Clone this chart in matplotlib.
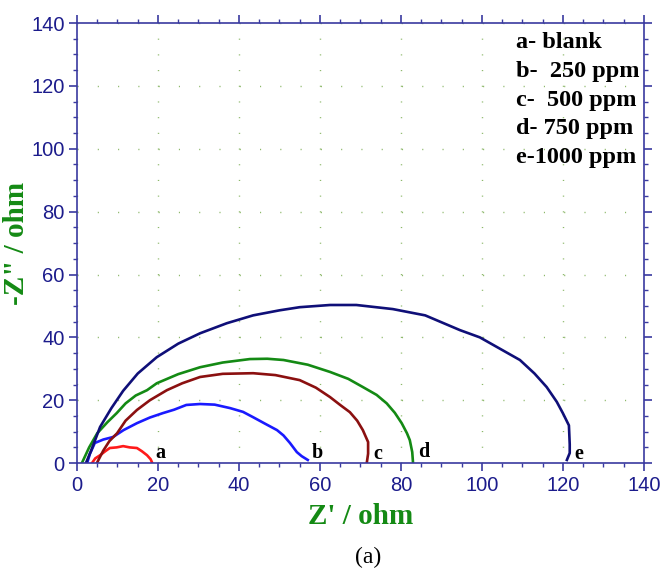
import numpy as np
import matplotlib
matplotlib.use("Agg")
import matplotlib.pyplot as plt
from matplotlib.ticker import MultipleLocator

# === Données ===
a_x = [3.7, 4.5, 5.7, 7.0, 8.1, 9.8, 11.4, 13.0, 14.8, 16.0, 17.3, 18.2, 18.5]
a_y = [0.0, 1.5, 2.5, 3.8, 4.8, 5.0, 5.4, 5.0, 4.8, 3.8, 2.5, 1.2, 0.3]

b_x = [2.5, 3.2, 4.4, 6.5, 8.9, 11.5, 14.8, 18.0, 21.2, 24.0, 27.0, 30.4, 34.0,
       37.8, 41.0, 43.5, 46.5, 49.4, 51.0, 52.6, 54.3, 55.5, 57.0]
b_y = [0.0, 3.0, 6.4, 7.5, 8.3, 10.5, 12.7, 14.5, 15.9, 17.0, 18.5, 18.8, 18.6,
       17.5, 16.3, 14.6, 12.5, 10.5, 8.8, 6.4, 3.5, 2.2, 1.0]

c_x = [4.9, 6.5, 8.0, 9.9, 12.0, 14.8, 18.0, 22.2, 26.0, 30.4, 36.0, 43.5, 49.0,
       55.0, 59.0, 62.5, 65.0, 67.4, 69.2, 70.6, 71.9, 71.9, 71.6]
c_y = [0.0, 4.0, 7.0, 9.5, 13.5, 16.9, 20.0, 23.2, 25.4, 27.4, 28.4, 28.6, 28.0,
       26.4, 24.0, 21.0, 18.5, 16.2, 13.5, 10.5, 6.7, 3.0, 0.3]

d_x = [1.2, 3.0, 5.0, 7.5, 9.8, 12.0, 14.5, 17.3, 19.7, 25.0, 30.4, 36.0, 42.7,
       47.0, 51.0, 57.0, 62.5, 67.0, 70.6, 74.0, 76.5, 78.5, 80.2, 81.5, 82.2,
       82.8, 83.0]
d_y = [0.0, 5.0, 9.5, 13.0, 15.9, 19.0, 21.5, 23.2, 25.4, 28.3, 30.5, 32.0, 33.1,
       33.2, 32.8, 31.3, 29.0, 26.8, 24.2, 21.7, 19.0, 16.0, 12.7, 9.5, 7.3,
       3.5, 0.0]

e_x = [2.2, 3.5, 5.7, 8.5, 11.4, 15.0, 19.7, 25.0, 30.4, 37.0, 43.5, 50.0, 55.0,
       62.5, 69.0, 78.0, 86.0, 94.6, 99.5, 105.0, 109.4, 113.0, 116.0, 118.5,
       120.0, 121.5, 121.7, 121.7, 121.0]
e_y = [0.0, 4.0, 11.5, 17.5, 23.0, 28.5, 33.7, 38.0, 41.3, 44.5, 47.0, 48.6, 49.6,
       50.3, 50.3, 49.0, 47.0, 42.3, 40.0, 36.0, 32.8, 28.5, 24.2, 19.5,
       15.9, 12.0, 6.0, 3.2, 1.0]

courbes = [
    (a_x, a_y, "#ff1a1a", "a", (19.3, 3.2)),
    (b_x, b_y, "#1a1aff", "b", (58.0, 3.2)),
    (c_x, c_y, "#8b1010", "c", (73.3, 2.8)),
    (d_x, d_y, "#148a14", "d", (84.3, 3.4)),
    (e_x, e_y, "#0f0f78", "e", (122.8, 3.0)),
]
legende = ["a- blank", "b-  250 ppm", "c-  500 ppm", "d- 750 ppm", "e-1000 ppm"]

# === Figure ===
fig = plt.figure(figsize=(6.61, 5.76), dpi=100)
ax = fig.add_axes([0.1165, 0.196, 0.8575, 0.764])

axe_col = "#3a3aa0"
tick_col = "#1c1c8c"

for x, y, col, lab, pos in courbes:
    ax.plot(x, y, color=col, lw=1.9, solid_joinstyle="round")
    ax.text(pos[0], pos[1], lab, fontsize=14.5, fontweight="bold",
            family="Liberation Serif", color="black", ha="left", va="center")

for i, t in enumerate(legende):
    ax.text(0.774, 0.955 - i * 0.065, t, transform=ax.transAxes, fontsize=17.5,
            fontweight="bold", family="Liberation Serif", color="black",
            ha="left", va="center")

ax.set_xlim(0, 140)
ax.set_ylim(0, 140)
ax.xaxis.set_major_locator(MultipleLocator(20))
ax.yaxis.set_major_locator(MultipleLocator(20))
ax.xaxis.set_minor_locator(MultipleLocator(5))
ax.yaxis.set_minor_locator(MultipleLocator(5))

for s in ax.spines.values():
    s.set_color(axe_col)
    s.set_linewidth(1.2)

ax.tick_params(which="both", direction="out", colors=axe_col,
               top=True, right=True, labelcolor=tick_col, labelsize=14.5)
ax.tick_params(which="major", length=6, width=1.2, pad=3)
ax.tick_params(which="minor", length=3, width=1.0)
for lab in ax.get_xticklabels() + ax.get_yticklabels():
    lab.set_family("Liberation Sans")

# grille pointillée (points à chaque graduation mineure)
ax.xaxis.grid(True, which="major", color="#8db86a", lw=1.0,
              linestyle=(0, (0.8, 10.5)))
ax.yaxis.grid(True, which="major", color="#8db86a", lw=1.0,
              linestyle=(0, (0.8, 13.8)))

ax.set_xlabel("Z' / ohm", fontsize=21, fontweight="bold",
              family="Liberation Serif", color="#148a14", labelpad=6)
ax.set_ylabel('-Z" / ohm', fontsize=21, fontweight="bold",
              family="Liberation Serif", color="#148a14", labelpad=1)

fig.text(0.557, 0.033, "(a)", fontsize=17, family="Liberation Serif",
         ha="center", va="center", color="black")

fig.savefig("out.png", dpi=100)
